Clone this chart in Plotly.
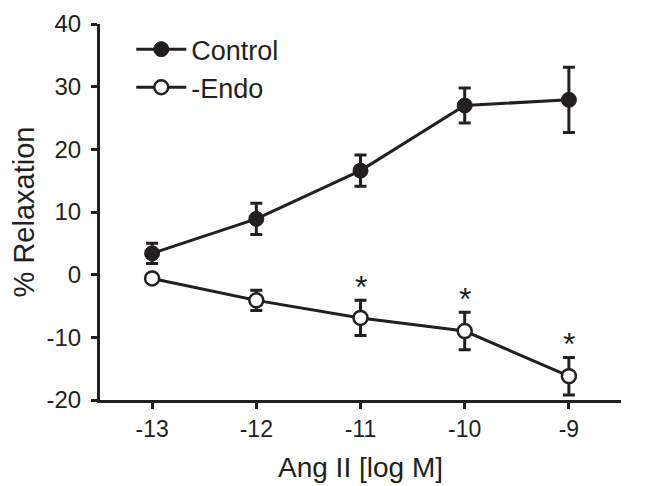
import plotly.graph_objects as go

dose = [-13, -12, -11, -10, -9]
control_mean = [3.4, 8.9, 16.6, 27.0, 27.9]
control_sem = [1.6, 2.5, 2.5, 2.8, 5.2]
endo_mean = [-0.6, -4.1, -6.9, -9.0, -16.2]
endo_sem = [0.5, 1.6, 2.8, 3.0, 3.0]
endo_signif = [False, False, True, True, True]
y_ticks = [-20, -10, 0, 10, 20, 30, 40]

INK = "#231f20"
FONT = "Liberation Sans, Arial, sans-serif"

fig = go.Figure()
fig.add_trace(go.Scatter(
    x=dose, y=control_mean, name="Control", mode="lines+markers",
    line=dict(color=INK, width=3),
    marker=dict(symbol="circle", size=15, color=INK, line=dict(color=INK, width=1)),
    error_y=dict(type="data", array=control_sem, visible=True, color=INK, thickness=3, width=6),
))
fig.add_trace(go.Scatter(
    x=dose, y=endo_mean, name="-Endo", mode="lines+markers",
    line=dict(color=INK, width=3),
    marker=dict(symbol="circle", size=14, color="white", line=dict(color=INK, width=2.5)),
    error_y=dict(type="data", array=endo_sem, visible=True, color=INK, thickness=3, width=6),
))

for xv, m, s, sig in zip(dose, endo_mean, endo_sem, endo_signif):
    if sig:
        fig.add_annotation(x=xv, y=m + s, text="*", showarrow=False,
                           yanchor="bottom", yshift=-7,
                           font=dict(family=FONT, size=32, color=INK))

fig.update_layout(
    width=645, height=486,
    margin=dict(l=92, r=32, t=16, b=94),
    paper_bgcolor="white", plot_bgcolor="white",
    font=dict(family=FONT, color=INK),
    showlegend=True,
    legend=dict(x=0.06, y=0.997, xanchor="left", yanchor="top",
                font=dict(size=27, color=INK), bgcolor="rgba(0,0,0,0)",
                itemwidth=50, tracegroupgap=0),
    xaxis=dict(range=[-13.5, -8.5], tickvals=dose, ticktext=[str(d) for d in dose],
               automargin=False,
               showgrid=False, zeroline=False, showline=True, linecolor=INK, linewidth=3,
               ticks="outside", ticklen=6, tickwidth=3, tickcolor=INK,
               tickfont=dict(size=23, color=INK),
               title=dict(text="Ang II [log M]", font=dict(size=28, color=INK), standoff=17)),
    yaxis=dict(range=[-20, 40], tickvals=y_ticks, ticktext=[str(v) for v in y_ticks],
               automargin=False, ticklabelstandoff=5,
               showgrid=False, zeroline=False, showline=True, linecolor=INK, linewidth=3,
               ticks="outside", ticklen=6, tickwidth=3, tickcolor=INK,
               tickfont=dict(size=24, color=INK),
               title=dict(text="% Relaxation", font=dict(size=29, color=INK), standoff=10)),
)

fig.write_html("out.html")
